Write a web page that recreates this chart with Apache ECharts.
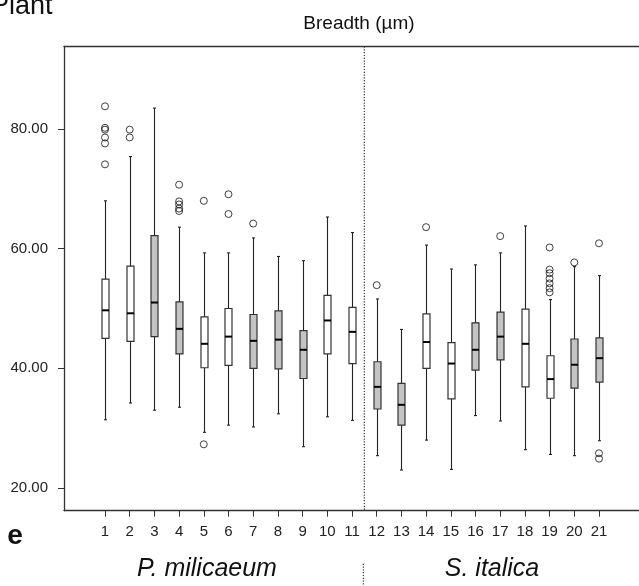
<!DOCTYPE html>
<html>
<head>
<meta charset="utf-8">
<script src="https://cdn.jsdelivr.net/npm/echarts@6/dist/echarts.min.js"></script>
<style>
html,body{margin:0;padding:0;background:#fff;}
#chart{width:639px;height:586px;}
</style>
</head>
<body>
<div id="chart"></div>
<script>
// ---- data ----
var groups = [1,2,3,4,5,6,7,8,9,10,11,12,13,14,15,16,17,18,19,20,21];
var mins    = [31.4,34.2,33.0,33.5,29.3,30.5,30.2,32.4,26.9,31.9,31.3,25.4,23.0,28.0,23.1,32.1,31.2,26.4,25.6,25.4,27.9];
var q1s     = [45.0,44.5,45.3,42.4,40.1,40.5,40.0,39.9,38.3,42.4,40.8,33.2,30.5,40.0,34.9,39.7,41.4,36.9,35.0,36.7,37.7];
var medians = [49.7,49.2,51.0,46.6,44.1,45.3,44.6,44.8,43.1,48.0,46.1,36.9,33.9,44.4,40.8,43.1,45.3,44.1,38.2,40.6,41.7];
var q3s     = [54.9,57.1,62.2,51.1,48.6,50.0,49.0,49.6,46.3,52.2,50.2,41.1,37.5,49.1,44.3,47.6,49.4,49.9,42.1,44.9,45.1];
var maxs    = [68.0,75.4,83.5,63.6,59.3,59.3,61.8,58.7,58.0,65.3,62.7,51.6,46.5,60.6,56.6,57.3,59.3,63.8,51.5,57.0,55.5];
var shaded  = [0,0,1,1,0,0,1,1,1,0,0,1,1,0,0,1,1,0,0,1,1];
var outliers = [
  [1,83.8],[1,80.2],[1,79.9],[1,78.6],[1,77.6],[1,74.1],
  [2,79.9],[2,78.6],
  [4,70.7],[4,67.9],[4,67.4],[4,66.7],[4,66.3],
  [5,68.0],[5,27.3],
  [6,69.1],[6,65.8],
  [7,64.2],
  [12,53.9],
  [14,63.6],
  [17,62.1],
  [19,60.2],[19,56.5],[19,55.9],[19,55.0],[19,54.2],[19,53.4],[19,52.7],
  [20,57.7],
  [21,60.9],[21,25.8],[21,24.9]
];
var yTicks = [20,40,60,80];
var xTicks = groups;
var separatorX = 11.5;
var speciesLabels = ['P. milicaeum','S. italica'];
var panelTitle = 'Breadth (µm)';
var plantLabel = 'Plant';
var panelLetter = 'e';

var boxData = groups.map(function(g,i){
  return [g, mins[i], q1s[i], medians[i], q3s[i], maxs[i], shaded[i]];
});

var FONT = '"Liberation Sans", Arial, Helvetica, sans-serif';
var Y_MIN = 16.2, Y_MAX = 93.8;

var chart = echarts.init(document.getElementById('chart'), null, {renderer:'canvas'});
var option = {
  animation:false,
  backgroundColor:'#fff',
  grid:{left:64, right:0, top:46.5, bottom:75.3},
  xAxis:[{
    type:'value', min:-0.66, max:22.62,
    axisLine:{show:true, onZero:false, lineStyle:{color:'#333', width:1.3}},
    axisTick:{show:true, customValues:xTicks, length:6, lineStyle:{color:'#333', width:1}},
    axisLabel:{show:true, customValues:xTicks, margin:14, fontSize:15, color:'#222', fontFamily:FONT},
    splitLine:{show:false}
  },{
    type:'value', position:'top', min:-0.66, max:22.62,
    axisLine:{show:true, onZero:false, lineStyle:{color:'#333', width:1.3}},
    axisTick:{show:false}, axisLabel:{show:false}, splitLine:{show:false}
  }],
  yAxis:{
    type:'value', min:Y_MIN, max:Y_MAX,
    axisLine:{show:true, onZero:false, lineStyle:{color:'#333', width:1.3}},
    axisTick:{show:true, customValues:yTicks, length:6, lineStyle:{color:'#333', width:1}},
    axisLabel:{show:true, customValues:yTicks, margin:16, fontSize:15, color:'#222', fontFamily:FONT,
      formatter:function(v){return Number(v).toFixed(2);}},
    splitLine:{show:false}
  },
  series:[
    {
      type:'custom',
      data:[[separatorX]],
      clip:false,
      silent:true,
      renderItem:function(params, api){
        var top = api.coord([api.value(0), Y_MAX]);
        var bot = api.coord([api.value(0), Y_MIN]);
        var st = {stroke:'#333', lineWidth:1.2, lineDash:[1.2,1.6]};
        return {type:'group', children:[
          {type:'line', shape:{x1:top[0], y1:top[1], x2:bot[0], y2:bot[1]}, style:st},
          {type:'line', shape:{x1:bot[0]-1, y1:bot[1]+53, x2:bot[0]-1, y2:bot[1]+76}, style:st}
        ]};
      }
    },
    {
      type:'custom',
      data:boxData,
      silent:true,
      encode:{x:0, y:[1,2,3,4,5]},
      renderItem:function(params, api){
        var x = api.value(0);
        var pMin = api.coord([x, api.value(1)]);
        var pQ1 = api.coord([x, api.value(2)]);
        var pMed = api.coord([x, api.value(3)]);
        var pQ3 = api.coord([x, api.value(4)]);
        var pMax = api.coord([x, api.value(5)]);
        var cx = Math.round(pMin[0]) + 0.5;
        var hw = 3.5, cw = 1.5;
        var ws = {stroke:'#222', lineWidth:1.1};
        return {type:'group', children:[
          {type:'line', shape:{x1:cx, y1:pMax[1], x2:cx, y2:pQ3[1]}, style:ws},
          {type:'line', shape:{x1:cx, y1:pQ1[1], x2:cx, y2:pMin[1]}, style:ws},
          {type:'line', shape:{x1:cx-cw, y1:pMax[1], x2:cx+cw, y2:pMax[1]}, style:ws},
          {type:'line', shape:{x1:cx-cw, y1:pMin[1], x2:cx+cw, y2:pMin[1]}, style:ws},
          {type:'rect', shape:{x:cx-hw, y:pQ3[1], width:hw*2, height:pQ1[1]-pQ3[1]},
            style:{fill: api.value(6) ? '#c4c4c4' : '#ffffff', stroke:'#333', lineWidth:1.2}},
          {type:'line', shape:{x1:cx-hw, y1:pMed[1], x2:cx+hw, y2:pMed[1]}, style:{stroke:'#000', lineWidth:2}}
        ]};
      }
    },
    {
      type:'scatter',
      data:outliers,
      symbol:'circle',
      symbolSize:7,
      itemStyle:{color:'rgba(255,255,255,0)', borderColor:'#111', borderWidth:1},
      silent:true
    }
  ],
  graphic:[
    {type:'text', x:-9, y:7, style:{text:plantLabel, fontSize:27, fontFamily:FONT, fill:'#111', verticalAlign:'middle'}},
    {type:'text', x:359, y:24, style:{text:panelTitle, fontSize:19, fontFamily:FONT, fill:'#111', align:'center', verticalAlign:'middle'}},
    {type:'text', x:15, y:536, style:{text:panelLetter, fontSize:28, fontWeight:'bold', fontFamily:FONT, fill:'#111', align:'center', verticalAlign:'middle'}},
    {type:'text', x:207, y:569, style:{text:speciesLabels[0], fontSize:25, fontStyle:'italic', fontFamily:FONT, fill:'#111', align:'center', verticalAlign:'middle'}},
    {type:'text', x:492, y:569, style:{text:speciesLabels[1], fontSize:25, fontStyle:'italic', fontFamily:FONT, fill:'#111', align:'center', verticalAlign:'middle'}}
  ]
};
chart.setOption(option);
</script>
</body>
</html>
